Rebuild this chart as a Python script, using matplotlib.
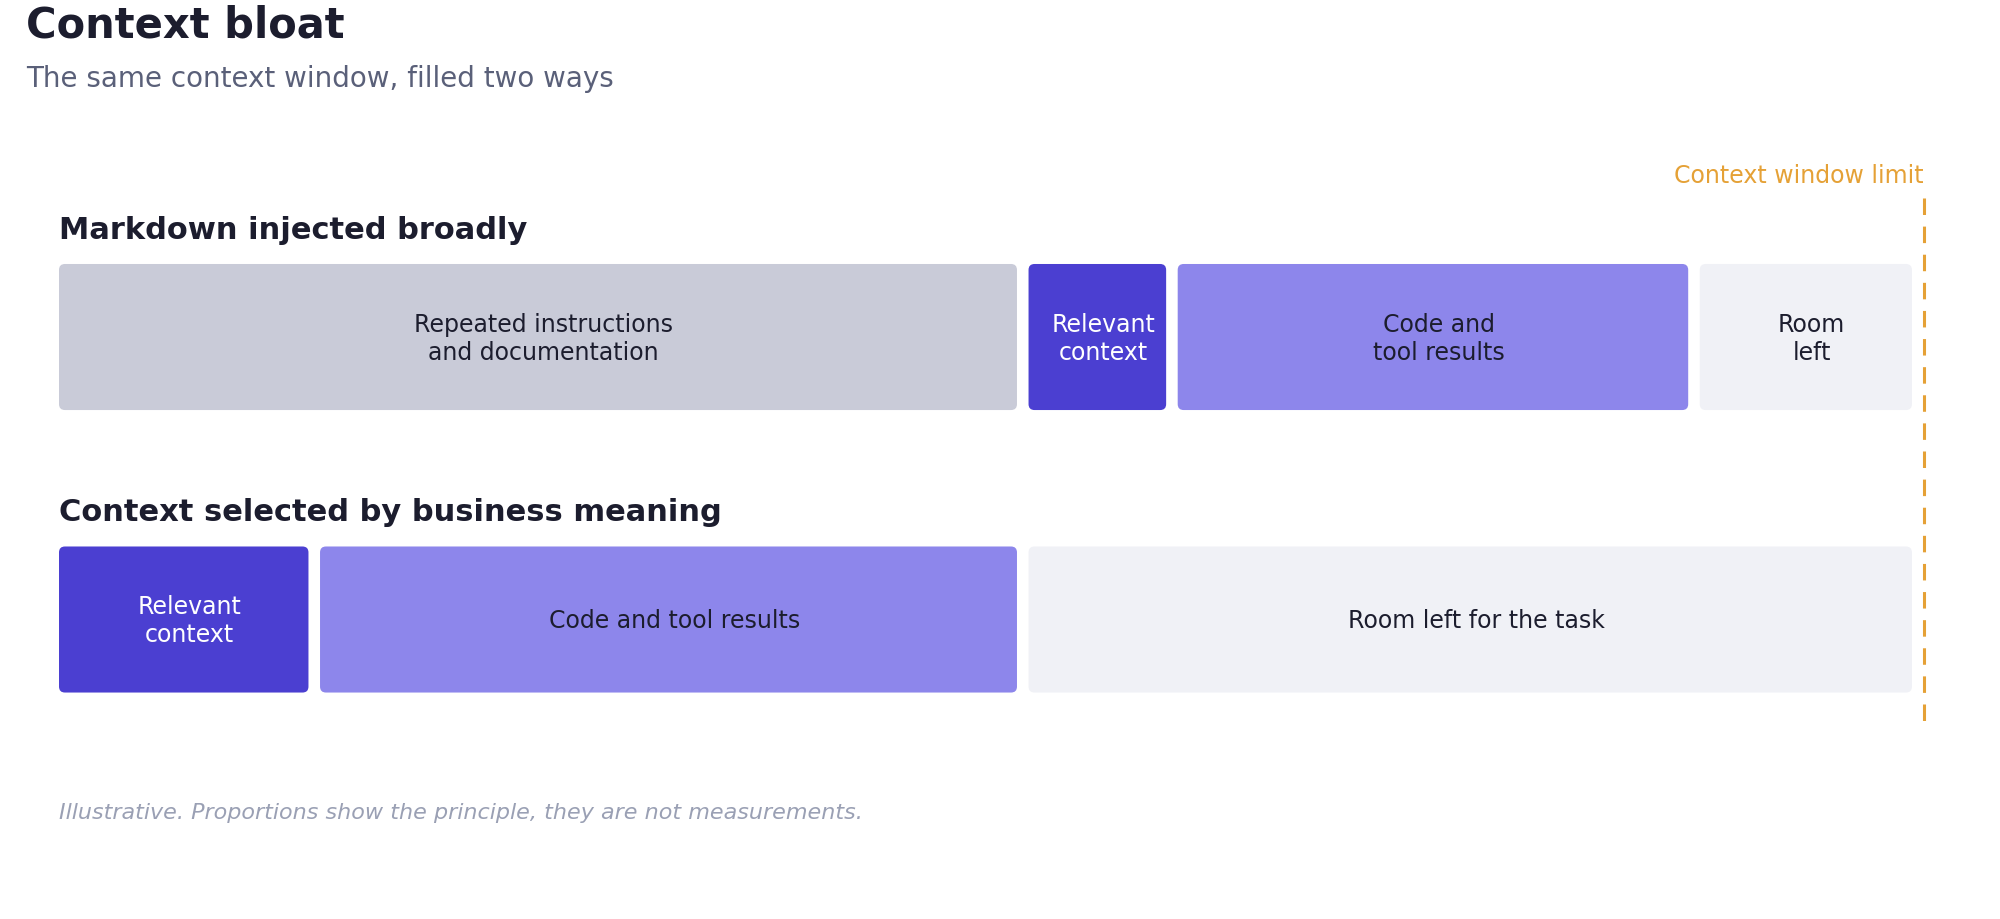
import matplotlib
matplotlib.use("Agg")
import matplotlib.pyplot as plt
from matplotlib.patches import FancyBboxPatch

# Two ways of filling the same context window (shares of the window, in %)
row_titles = ["Markdown injected broadly", "Context selected by business meaning"]

broad_labels = ["Repeated instructions\nand documentation", "Relevant\ncontext",
                "Code and\ntool results", "Room\nleft"]
broad_shares = [52, 8, 28, 12]
broad_kinds = ["docs", "relevant", "code", "room"]

selected_labels = ["Relevant\ncontext", "Code and tool results", "Room left for the task"]
selected_shares = [14, 38, 48]
selected_kinds = ["relevant", "code", "room"]

window_limit = 100

fill = {"docs": "#c9cbd8", "relevant": "#4b3fd1", "code": "#8d86eb", "room": "#f0f1f6"}
ink = {"docs": "#1c1d2e", "relevant": "#ffffff", "code": "#1c1d2e", "room": "#1c1d2e"}
orange = "#e5a136"
dark = "#1c1d2e"

W, H = 2000, 919
fig = plt.figure(figsize=(W / 100, H / 100), dpi=100)

# axes: x in % of the window, y in row units (row 0 on top)
ax = fig.add_axes([59 / W, (H - 750) / H, 1864.5 / W, 560 / H])
ax.set_xlim(0, window_limit)
ax.set_ylim(1.4619, -0.5204)
ax.axis("off")

bar_h = 0.517
gap = 0.62
x_px = 1864.5 / window_limit
y_px = 560 / (1.4619 + 0.5204)
aspect = x_px / y_px

rows = [(broad_labels, broad_shares, broad_kinds),
        (selected_labels, selected_shares, selected_kinds)]

for i, (labels, shares, kinds) in enumerate(rows):
    ax.text(0, i - 0.347, row_titles[i], fontsize=22, fontweight="bold",
            color=dark, ha="left", va="baseline")
    left = 0
    for lab, w, k in zip(labels, shares, kinds):
        patch = FancyBboxPatch((left, i - bar_h / 2), w - gap, bar_h,
                               boxstyle="round,pad=0,rounding_size=0.32",
                               mutation_aspect=aspect,
                               facecolor=fill[k], edgecolor="none")
        ax.add_patch(patch)
        ax.text(left + w / 2, i + 0.006, lab, ha="center", va="center",
                fontsize=17, color=ink[k], linespacing=1.2)
        left += w

ax.plot([window_limit, window_limit], [-0.492, 1.381], color=orange, lw=2.2,
        dashes=(5.4, 3.8), clip_on=False)
ax.text(window_limit, -0.545, "Context window limit", ha="right", va="baseline",
        fontsize=17, color=orange)

fig.text(26 / W, 1 - 38 / H, "Context bloat", fontsize=30, fontweight="bold",
         color=dark, ha="left", va="baseline")
fig.text(26 / W, 1 - 87 / H, "The same context window, filled two ways",
         fontsize=20, color="#5a6079", ha="left", va="baseline")
fig.text(59 / W, 1 - 819 / H,
         "Illustrative. Proportions show the principle, they are not measurements.",
         fontsize=16, style="italic", color="#9aa0b4", ha="left", va="baseline")

fig.savefig("out.png", dpi=100, facecolor="white")
